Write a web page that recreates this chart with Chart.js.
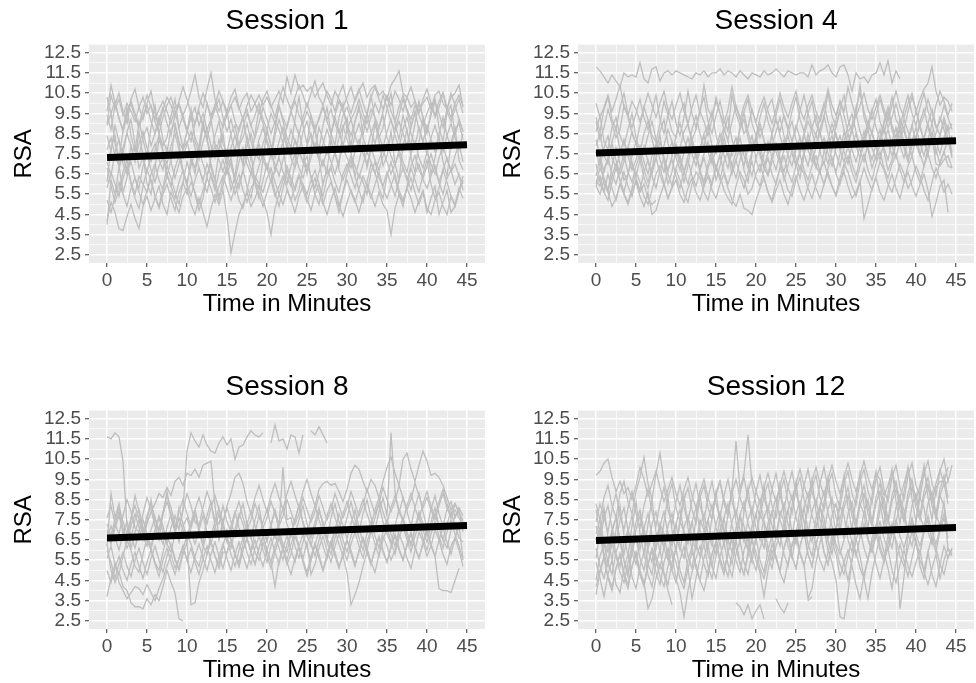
<!DOCTYPE html>
<html>
<head>
<meta charset="utf-8">
<script src="https://cdn.jsdelivr.net/npm/chart.js@4.4.1/dist/chart.umd.min.js"></script>
<style>
    body { margin: 0; background: #fff; width: 976px; height: 683px; overflow: hidden; position: relative; }
    .panel { position: absolute; width: 488px; height: 320px; }
</style>
</head>
<body>
<div class="panel" style="left:0;top:0"><canvas id="session1" width="488" height="320"></canvas></div>
<div class="panel" style="left:489px;top:0"><canvas id="session4" width="488" height="320"></canvas></div>
<div class="panel" style="left:0;top:366px"><canvas id="session8" width="488" height="320"></canvas></div>
<div class="panel" style="left:489px;top:366px"><canvas id="session12" width="488" height="320"></canvas></div>
<script>
// time axis, half-minute samples
const minutes = [
    0, 0.5, 1, 1.5, 2, 2.5, 3, 3.5, 4, 4.5, 5, 5.5, 6, 6.5, 7, 7.5, 8, 8.5, 9, 9.5,
    10, 10.5, 11, 11.5, 12, 12.5, 13, 13.5, 14, 14.5, 15, 15.5, 16, 16.5, 17, 17.5, 18, 18.5, 19, 19.5,
    20, 20.5, 21, 21.5, 22, 22.5, 23, 23.5, 24, 24.5, 25, 25.5, 26, 26.5, 27, 27.5, 28, 28.5, 29, 29.5,
    30, 30.5, 31, 31.5, 32, 32.5, 33, 33.5, 34, 34.5, 35, 35.5, 36, 36.5, 37, 37.5, 38, 38.5, 39, 39.5,
    40, 40.5, 41, 41.5, 42, 42.5, 43, 43.5, 44, 44.5, 45
];
const xTickValues = [0, 2.5, 5, 7.5, 10, 12.5, 15, 17.5, 20, 22.5, 25, 27.5, 30, 32.5, 35, 37.5, 40, 42.5, 45];
const yTickValues = [2.5, 3, 3.5, 4, 4.5, 5, 5.5, 6, 6.5, 7, 7.5, 8, 8.5, 9, 9.5, 10, 10.5, 11, 11.5, 12, 12.5];
const trendX = [0, 45];

const session1Trend = [7.32, 7.95];
const session1Lines = [
    [9.0,10.4,9.7,10.2,9.4,10.0,9.6,9.1,9.8,10.3, 9.5,9.9,9.2,9.7,10.1,9.6,9.0,9.8,10.0,9.4,
     9.9,10.6,11.4,10.3,9.8,10.7,11.5,10.2,9.6,10.1, 9.4,9.9,10.3,9.7,10.2,10.5,9.6,10.0,10.4,9.9,
     10.3,9.8,10.2,10.6,10.0,11.3,10.5,11.4,10.7,10.9, 10.6,10.8,10.3,10.7,11.0,10.4,9.9,10.6,10.2,9.8,
     10.3,10.8,10.1,10.6,11.0,10.3,10.7,10.9,10.4,10.6, 10.2,10.9,11.2,11.6,10.5,10.3,9.8,10.1,9.6,10.0,
     10.3,9.7,10.4,10.6,10.0,9.7,10.3,10.5,10.9,9.8, null],
    [10.3,9.5,10.1,9.2,8.7,9.6,10.0,9.3,8.8,9.4, 9.9,9.1,8.5,9.2,9.8,9.0,8.4,9.5,9.9,9.2,
     8.6,9.3,9.8,8.9,9.5,8.7,9.2,9.9,9.3,8.8, 9.4,9.9,9.1,8.6,9.3,9.7,8.9,9.4,10.0,9.2,
     8.7,9.5,9.0,9.8,9.3,8.8,9.6,10.1,9.4,9.0, 9.6,9.1,8.6,9.3,9.9,9.2,9.7,9.0,8.5,9.4,
     9.8,9.2,9.6,10.2,9.5,9.0,9.7,9.3,8.8,9.6, 10.3,9.6,9.1,9.8,10.4,9.7,9.2,9.9,9.4,8.9,
     9.5,10.0,9.3,9.8,10.5,9.6,9.1,9.7,10.2,9.5, null],
    [8.4,7.6,8.9,8.1,7.5,8.6,9.2,8.0,7.4,8.3, 8.8,7.9,8.5,9.3,8.2,7.6,8.7,9.0,8.1,7.7,
     8.6,9.4,8.3,7.8,8.9,8.2,7.5,8.4,9.1,8.0, 7.6,8.5,8.9,7.9,8.3,9.0,8.1,7.4,8.2,8.8,
     8.0,7.3,8.4,9.2,8.5,7.8,8.7,8.1,7.6,8.6, 9.1,8.3,7.7,8.8,8.2,7.5,8.4,9.3,8.6,7.9,
     8.7,9.2,8.4,7.8,8.9,9.5,8.6,8.0,8.8,9.4, 8.3,7.7,8.6,9.1,8.5,7.9,8.8,9.6,8.7,8.1,
     8.9,8.2,7.6,8.5,9.3,8.4,7.8,8.7,9.0,8.2, null],
    [7.1,6.4,7.6,8.2,7.0,6.5,7.4,7.9,6.8,7.3, 6.6,7.5,8.0,7.2,6.7,7.8,7.1,6.3,7.0,7.7,
     8.1,7.3,6.8,7.6,7.0,6.4,7.3,7.9,7.2,6.6, 7.4,6.9,6.2,7.1,7.8,7.0,6.5,7.3,8.0,7.2,
     6.7,7.5,7.0,6.4,7.2,7.9,7.3,6.8,7.6,7.1, 6.6,7.3,8.0,7.4,6.9,7.7,7.1,6.5,7.2,7.8,
     7.3,6.8,7.6,8.2,7.5,7.0,7.8,7.2,6.7,7.4, 8.0,7.4,6.9,7.7,7.1,6.6,7.5,8.1,7.3,6.8,
     7.6,7.0,6.5,7.3,7.9,7.2,6.7,7.4,8.0,7.1, null],
    [5.8,6.6,6.0,5.4,6.3,6.9,6.1,5.5,6.4,6.0, 5.6,6.5,7.0,6.2,5.7,6.4,5.9,5.3,6.1,6.7,
     6.0,5.4,6.2,6.8,6.1,5.6,6.5,5.9,5.2,6.3, 6.9,6.2,5.5,6.1,6.7,5.9,5.3,6.4,6.0,5.6,
     6.3,6.8,6.1,5.5,6.2,6.9,6.3,5.7,6.4,6.0, 5.5,6.2,6.7,6.0,5.4,6.3,6.8,6.1,5.6,6.5,
     7.0,6.4,5.8,6.5,6.1,5.5,6.6,7.1,6.3,5.9, 6.6,6.0,5.4,6.2,6.8,6.3,5.7,6.5,7.0,6.2,
     5.8,6.4,6.9,6.1,5.5,6.3,6.7,6.0,6.5,5.7, null],
    [4.2,5.1,4.6,3.8,3.7,4.4,5.0,4.3,3.8,4.9, 5.4,4.7,5.3,5.9,5.0,4.5,5.6,5.1,4.6,5.4,
     5.8,5.0,4.5,5.3,4.6,3.9,4.8,5.5,5.0,5.7, 4.4,2.6,3.6,4.5,5.0,5.6,4.9,5.3,5.9,5.2,
     4.6,3.5,4.8,5.5,5.0,5.7,5.2,4.6,5.4,5.9, 5.3,4.7,5.5,6.0,5.1,4.5,5.2,5.8,5.0,4.4,
     5.1,5.7,5.2,4.6,5.4,6.0,5.5,4.9,5.6,5.0, 4.7,3.5,4.8,5.5,5.1,5.8,5.3,4.6,5.2,5.7,
     4.8,4.5,5.2,5.6,4.9,4.5,5.4,5.0,5.8,5.3, null],
    [4.0,6.2,5.5,6.8,7.4,6.6,7.1,6.3,5.8,6.9, 7.5,6.7,6.1,6.9,7.3,6.5,5.9,6.8,7.4,6.6,
     6.1,6.9,7.6,6.8,6.2,7.0,6.4,5.7,6.6,7.2, 6.5,7.1,6.3,5.8,6.7,7.4,6.8,6.2,6.9,7.5,
     6.8,6.1,6.7,7.3,6.6,6.0,6.9,7.5,6.8,6.3, 7.0,6.4,5.8,6.6,7.2,6.5,6.9,7.6,6.7,6.2,
     6.8,7.4,6.9,6.3,7.0,7.6,7.1,6.5,7.2,7.7, 7.1,6.5,7.0,7.5,6.8,6.2,6.9,7.4,6.7,6.3,
     6.9,7.5,6.8,6.1,6.7,7.3,6.6,7.0,6.4,6.0, null],
    [9.6,10.9,10.0,9.3,8.6,9.4,10.1,9.5,8.9,9.7, 10.4,9.8,9.1,8.5,9.3,9.9,10.3,9.6,8.8,9.4,
     8.7,8.1,9.0,9.6,8.8,8.2,9.1,9.7,10.2,9.3, 8.6,9.2,8.4,7.9,8.8,9.5,8.9,8.3,9.0,9.8,
     9.2,8.5,9.1,8.7,8.0,8.9,9.6,9.0,8.4,9.3, 10.0,9.4,8.7,9.2,9.8,9.1,8.5,9.4,10.1,9.6,
     9.0,8.4,9.1,9.7,9.2,8.6,9.3,10.0,9.5,10.4, 9.8,9.1,8.7,9.4,10.2,9.6,8.9,9.5,10.0,9.3,
     8.7,9.4,10.1,9.5,8.8,9.7,10.5,9.9,9.2,8.6, null],
    [5.2,4.6,5.4,6.1,5.5,4.9,5.8,6.3,5.6,5.0, 5.7,6.2,5.4,4.8,5.5,6.0,5.3,4.7,5.6,6.1,
     5.5,6.1,5.6,5.0,5.7,6.3,5.8,5.1,5.9,6.4, 5.8,5.2,5.9,6.5,5.7,5.1,5.8,6.2,5.5,4.9,
     5.6,6.2,5.4,5.9,6.4,5.8,5.2,5.9,6.5,5.7, 5.1,5.8,6.3,5.6,5.0,5.7,6.1,5.4,4.9,5.6,
     6.2,5.6,5.1,5.8,6.4,5.9,5.3,6.0,6.6,5.8, 5.3,5.9,6.5,5.7,5.2,5.8,6.3,5.6,5.0,5.6,
     4.6,5.3,5.9,4.5,5.1,5.7,4.6,4.9,5.6,6.2, null],
    [7.7,8.3,7.4,6.9,7.8,8.5,7.9,7.2,8.0,8.6, 7.8,7.1,7.7,8.4,7.6,7.0,7.9,8.5,7.7,7.3,
     8.0,8.6,7.8,7.2,8.1,8.7,7.9,7.3,8.2,7.6, 7.0,7.8,8.4,7.7,7.1,7.9,8.5,7.6,7.2,8.0,
     8.6,7.9,7.3,8.1,8.8,8.0,7.4,8.2,7.7,7.1, 7.9,8.5,7.8,7.2,8.0,8.7,8.1,7.5,8.3,8.9,
     8.2,7.6,8.4,9.0,8.3,7.7,8.5,9.1,8.4,7.8, 8.6,9.2,8.4,7.8,8.7,9.3,8.5,7.9,8.8,8.1,
     7.5,8.3,8.9,8.2,7.6,8.4,9.0,8.3,7.7,8.5, null],
    [6.1,7.8,8.4,6.9,5.6,6.3,7.9,7.1,8.6,7.4, 6.0,5.5,6.8,8.2,7.7,6.4,7.2,8.9,8.0,6.6,
     5.9,7.3,6.5,7.9,9.1,8.3,6.8,6.2,7.6,8.5, 7.0,5.7,6.4,7.8,6.9,8.4,7.5,6.1,5.8,7.2,
     8.7,7.9,6.6,7.4,8.1,6.3,5.9,7.0,8.6,7.7, 6.5,7.8,8.9,7.2,6.0,6.7,8.2,7.5,6.9,8.8,
     9.3,7.6,6.4,7.1,8.0,6.8,7.7,9.0,8.1,6.9, 7.4,8.6,7.0,6.2,7.9,8.7,7.3,6.6,8.1,9.2,
     7.8,6.5,7.3,8.4,7.1,6.4,8.0,8.8,7.2,6.7, null],
    [8.9,9.5,8.0,7.3,8.6,9.8,8.4,7.6,9.1,8.2, 7.4,8.8,9.9,8.5,7.9,8.3,9.4,10.2,8.7,7.8,
     8.6,9.7,8.1,7.5,8.9,10.0,9.2,8.0,7.7,9.0, 9.6,8.4,7.6,8.8,9.3,8.1,7.2,8.5,9.7,9.0,
     8.2,7.5,8.7,9.9,9.1,8.3,7.8,9.2,10.3,8.9, 8.0,9.4,8.6,7.7,8.9,9.8,8.5,7.9,9.3,10.0,
     8.7,7.9,9.1,9.9,8.4,9.5,10.4,9.2,8.3,8.8, 9.7,10.5,9.0,8.2,9.4,8.6,7.9,9.0,10.1,9.3,
     8.5,9.6,10.2,8.8,8.1,9.5,9.9,8.4,9.2,8.6, null],
    [6.8,5.9,5.1,5.7,6.6,7.2,6.0,5.3,4.8,5.9, 6.7,6.2,5.4,4.9,5.8,6.9,6.3,5.6,5.0,6.1,
     7.1,6.4,5.5,4.7,5.3,6.4,7.0,6.2,5.4,5.9, 6.8,7.3,6.1,5.2,4.8,5.7,6.6,6.0,5.3,6.2,
     7.0,6.5,5.6,4.9,5.8,6.7,6.1,5.2,5.7,6.9, 7.4,6.3,5.5,5.0,6.0,6.8,6.2,5.4,4.6,5.6,
     6.5,7.2,6.4,5.7,5.1,6.1,7.0,6.6,5.8,5.3, 6.4,7.1,6.3,5.5,4.9,5.9,6.8,6.2,5.6,6.5,
     7.2,6.0,5.3,5.8,6.7,6.1,5.4,4.9,5.7,6.4, null],
    [9.4,8.7,9.9,10.5,9.6,9.0,10.2,10.7,9.8,9.2, 10.0,10.6,9.5,8.9,9.7,10.3,9.9,9.3,10.1,10.8,
     10.2,9.5,9.0,9.8,10.5,10.0,9.4,9.9,10.6,10.1, 9.6,10.3,10.7,9.8,9.2,9.9,10.4,10.0,9.5,10.2,
     10.6,9.9,9.3,10.1,10.8,10.2,9.7,10.3,10.9,10.4, 9.8,10.5,11.1,10.3,9.9,10.6,10.2,9.6,10.4,10.9,
     10.1,9.5,10.2,10.7,10.0,9.4,10.3,10.8,10.2,9.7, 10.4,9.9,10.6,10.2,9.6,10.3,10.8,10.1,9.5,10.2,
     10.7,10.0,9.4,10.1,10.5,9.8,9.3,10.0,10.4,9.9, null]
];

const session4Trend = [7.54, 8.14];
const session4Lines = [
    [11.8,11.6,11.3,11.0,11.4,11.1,10.8,11.5,11.3,11.4, 11.3,12.0,11.2,11.0,11.7,11.8,11.1,11.5,11.6,11.4,
     11.6,11.5,11.4,11.3,11.2,11.5,11.4,11.6,11.3,11.5, 11.5,11.7,11.4,11.6,11.5,11.3,11.6,11.4,11.2,11.5,
     11.4,11.3,11.6,11.4,11.5,11.7,11.5,11.3,11.6,11.5, 11.4,11.5,11.5,11.3,11.9,11.4,11.6,11.7,11.9,11.5,
     11.3,11.8,11.9,11.4,10.6,11.5,11.2,11.3,11.0,11.4, 11.5,12.0,11.4,12.1,11.0,11.6,11.2,null,null,null,
     null,null,null,null,null,null,null,null,null,null, null],
    [10.0,9.3,9.8,10.4,9.6,10.2,10.9,9.8,9.4,10.1, 9.7,9.1,9.8,10.5,9.9,9.3,10.0,10.6,9.7,9.2,
     9.9,10.5,9.6,9.0,9.8,10.4,9.5,10.9,9.7,9.3, 10.1,9.5,9.0,9.7,10.8,9.8,9.2,9.9,10.4,9.6,
     9.1,9.8,10.3,9.6,9.0,9.7,10.5,9.8,9.3,10.0, 10.6,9.7,9.2,9.9,10.4,9.6,9.1,9.8,10.7,9.9,
     9.4,10.1,9.6,10.8,10.0,9.3,9.9,10.5,9.7,9.2, 9.8,10.4,9.7,9.1,9.9,10.6,9.8,9.3,10.0,10.5,
     9.6,10.2,10.7,11.0,11.8,10.6,9.9,10.3,10.1,9.6, null],
    [8.6,9.4,8.1,7.7,8.8,9.3,8.4,7.9,8.7,9.5, 8.3,7.6,8.5,9.1,8.2,7.5,8.6,9.2,8.0,7.4,
     8.4,9.0,8.2,7.6,8.7,9.4,8.5,7.8,8.9,9.6, 8.4,7.7,8.6,9.3,8.2,7.5,8.8,9.5,8.6,7.9,
     8.3,9.0,8.1,7.6,8.5,9.2,8.4,7.7,8.6,9.1, 8.2,7.5,8.4,9.1,8.6,7.9,8.7,9.4,8.5,7.8,
     8.9,9.6,8.7,8.0,8.8,9.5,8.6,8.1,9.0,9.7, 8.8,8.2,9.1,9.8,8.9,8.3,9.2,8.6,8.0,8.9,
     9.6,8.8,8.2,9.0,9.7,8.9,8.4,9.3,8.6,9.0, null],
    [7.6,6.9,7.8,8.4,7.3,6.8,7.5,8.2,7.4,6.7, 7.2,7.9,7.1,6.5,7.4,8.0,7.2,6.6,7.5,8.1,
     7.3,6.7,7.6,8.3,7.5,6.9,7.7,8.4,7.6,7.0, 7.8,8.5,7.4,6.8,7.7,8.3,7.5,6.9,7.8,8.4,
     7.2,6.6,7.5,8.1,7.3,6.7,7.6,8.2,7.4,6.9, 7.7,8.3,7.5,6.9,7.8,8.5,7.6,7.0,7.9,8.4,
     7.5,6.9,7.8,8.5,7.7,7.1,7.9,8.6,7.8,7.2, 8.0,8.7,7.8,7.2,8.1,8.8,7.9,7.3,8.2,8.9,
     8.0,7.4,8.3,9.0,8.1,7.5,8.4,9.1,8.2,7.6, null],
    [6.2,5.9,6.7,7.3,6.5,6.0,6.8,7.4,6.6,6.1, 6.9,7.5,6.7,6.1,6.8,7.3,6.5,5.9,6.7,7.2,
     6.4,5.8,6.6,7.2,6.4,5.9,6.7,7.3,6.5,6.0, 6.8,7.4,6.6,6.0,6.7,7.2,6.4,5.8,6.6,7.1,
     6.3,5.9,6.7,7.3,6.5,6.0,6.8,7.4,6.6,6.1, 6.9,7.5,6.7,6.2,6.9,7.4,6.6,6.0,6.8,7.3,
     6.5,6.0,6.8,7.4,6.6,6.1,6.9,7.5,6.7,6.2, 7.0,7.6,6.8,6.3,7.0,7.5,6.7,6.1,6.9,7.4,
     6.6,6.1,6.9,7.5,6.8,6.3,7.1,7.6,6.9,6.8, null],
    [5.9,5.5,6.2,5.6,4.9,5.3,6.0,5.5,5.0,5.7, 6.1,5.4,4.9,5.6,4.5,4.7,5.4,6.0,5.3,5.8,
     6.2,5.5,5.1,5.8,6.3,5.6,5.2,5.9,6.4,5.7, 5.3,6.0,6.5,5.8,5.2,4.9,5.5,4.8,4.7,4.5,
     5.2,5.8,6.3,5.6,5.1,5.7,6.2,5.5,5.0,5.8, 6.4,5.7,5.2,5.9,6.5,5.8,5.3,6.0,6.6,5.9,
     5.4,6.1,6.6,5.9,5.3,5.6,6.2,4.3,5.0,5.8, 6.3,5.6,5.2,5.9,6.5,5.8,5.3,6.1,6.6,5.9,
     5.4,6.0,6.5,5.7,4.4,5.1,5.9,6.2,4.6,null, null],
    [8.2,7.4,6.6,7.3,8.0,7.2,6.5,7.1,7.8,7.0, 6.4,7.2,7.9,7.1,6.5,7.3,8.1,7.3,6.7,7.4,
     8.0,7.2,6.6,7.4,8.2,7.4,6.8,7.5,8.1,7.3, 6.7,7.5,8.3,7.5,6.9,7.6,8.3,7.4,6.8,7.6,
     8.2,7.4,6.8,7.6,8.4,7.6,7.0,7.7,8.4,7.5, 6.9,7.7,8.5,7.7,7.1,7.8,8.6,7.7,7.0,7.8,
     8.5,7.7,7.1,7.9,8.7,7.9,7.3,8.0,8.7,7.8, 7.2,8.0,8.8,8.0,7.4,8.1,8.9,8.0,7.3,8.1,
     8.8,8.0,7.4,8.2,9.0,8.1,7.5,8.3,8.9,7.4, null],
    [7.0,6.1,5.6,6.5,5.8,5.2,6.0,6.6,5.9,5.4, 6.2,5.6,6.0,5.3,5.0,5.2,null,null,null,null,
     null,null,null,null,null,null,null,null,null,null, null,null,null,null,null,null,null,null,null,null,
     null,null,null,null,null,null,null,null,null,null, null,null,null,null,null,null,null,null,null,null,
     null,null,null,null,null,null,null,null,null,null, null,null,null,null,null,null,null,null,null,null,
     null,null,null,null,null,null,null,null,null,null, null],
    [9.3,8.6,9.7,10.3,9.2,8.7,9.8,10.5,9.4,8.8, 9.5,10.2,9.3,8.7,9.6,10.4,9.2,8.5,9.4,10.1,
     9.0,8.4,9.3,10.6,9.5,8.8,9.7,10.3,9.1,8.5, 9.4,10.1,9.2,8.6,10.4,9.5,8.9,9.6,10.2,9.0,
     8.4,9.3,10.0,9.1,8.5,9.4,10.2,9.3,8.7,9.6, 10.3,9.2,8.6,9.5,10.1,9.0,8.4,9.3,10.5,9.4,
     8.8,9.7,10.4,9.2,8.6,9.5,10.9,9.3,8.7,9.6, 10.2,9.1,8.5,9.4,10.3,9.2,8.8,9.7,10.4,9.5,
     8.9,9.8,10.5,9.6,9.0,9.9,10.6,10.1,9.4,10.0, null],
    [6.0,6.8,6.3,5.7,6.4,7.0,6.2,5.6,6.5,7.1, 6.3,5.7,6.6,7.2,6.4,5.8,6.7,7.3,6.5,5.9,
     6.8,7.4,6.6,6.0,6.9,7.5,6.7,6.1,7.0,7.6, 6.8,6.2,7.1,7.7,6.9,6.3,7.2,7.8,7.0,6.4,
     7.3,7.9,7.1,6.5,7.4,8.0,7.2,6.6,7.5,8.1, 7.3,6.7,7.6,8.2,7.4,6.8,7.7,8.3,7.5,6.9,
     7.8,8.4,7.6,7.0,7.9,8.5,7.7,7.1,8.0,8.6, 7.8,7.2,8.1,8.7,7.9,7.3,8.2,8.8,8.0,7.4,
     8.3,8.9,8.1,7.5,8.4,7.0,6.9,7.2,7.4,6.8, null],
    [6.4,7.3,6.0,5.6,6.9,7.8,7.0,6.2,6.5,7.4, 8.1,7.2,6.3,5.8,6.7,7.9,8.4,7.1,6.0,6.6,
     7.7,7.0,6.1,6.9,8.2,7.5,6.6,5.9,6.8,7.3, 6.2,6.9,8.0,7.4,6.5,7.2,7.8,6.7,6.1,7.5,
     8.3,7.6,6.8,6.4,7.1,8.0,7.3,6.2,6.9,7.7, 7.0,6.3,7.4,8.5,7.8,6.9,6.5,7.6,8.1,7.2,
     6.6,7.5,8.6,7.9,7.0,6.4,7.3,8.2,7.7,6.8, 7.4,8.3,7.6,6.7,7.2,8.0,8.7,7.8,7.1,7.9,
     8.4,7.5,6.9,7.8,8.6,7.7,7.0,7.6,8.2,7.3, null],
    [9.1,8.2,8.8,9.7,9.0,8.3,8.7,9.9,9.3,8.5, 8.0,8.9,9.8,9.2,8.4,8.1,9.0,10.1,9.4,8.6,
     8.3,9.5,10.0,8.9,8.2,8.7,9.6,9.1,8.4,9.2, 10.3,9.5,8.7,8.2,9.1,9.9,9.3,8.5,8.8,9.7,
     9.0,8.3,8.9,9.8,10.2,9.2,8.6,9.4,8.8,8.1, 8.7,9.6,10.4,9.5,8.8,8.4,9.3,10.0,9.1,8.5,
     9.2,10.1,9.4,8.6,8.9,9.8,10.5,9.6,8.9,8.5, 9.4,10.2,9.5,8.8,9.3,10.0,9.2,8.7,9.6,10.3,
     9.7,8.9,9.4,10.2,9.5,8.8,9.1,9.9,9.3,8.7, null],
    [5.9,6.4,5.6,5.2,6.1,6.8,6.2,5.5,5.1,5.8, 6.6,6.1,5.4,5.0,5.7,6.5,6.9,6.0,5.3,5.9,
     6.7,6.2,5.5,5.1,6.0,6.6,6.3,5.6,5.2,6.1, 6.9,6.4,5.7,5.3,5.0,5.9,6.6,6.2,5.5,5.8,
     6.5,7.0,6.3,5.6,5.2,6.1,6.8,6.4,5.7,5.4, 6.2,6.9,6.5,5.8,5.3,6.0,6.7,7.1,6.4,5.9,
     5.5,6.3,7.0,6.6,5.9,5.4,6.1,6.8,6.2,5.7, 6.4,7.1,6.7,6.0,5.6,6.3,7.0,6.5,5.8,6.2,
     6.9,6.4,5.7,5.2,6.1,6.8,6.3,5.6,6.0,5.5, null],
    [7.9,8.5,7.4,7.0,8.1,8.8,7.7,7.2,7.8,8.6, 8.0,7.3,7.6,8.4,9.1,8.2,7.5,7.9,8.7,8.1,
     7.4,7.8,8.6,9.0,8.0,7.3,7.7,8.5,8.9,7.9, 7.5,8.2,8.8,8.1,7.4,7.9,8.7,9.2,8.3,7.6,
     8.0,8.8,8.2,7.5,7.9,8.6,9.3,8.4,7.7,8.1, 8.9,8.3,7.6,8.0,8.8,9.4,8.5,7.8,8.2,9.0,
     8.4,7.7,8.1,8.9,9.5,8.6,7.9,8.3,9.1,8.5, 7.8,8.2,9.0,9.6,8.7,8.0,8.4,9.2,8.6,7.9,
     8.3,9.1,9.7,8.8,8.1,8.5,9.3,8.7,8.0,8.4, null]
];

const session8Trend = [6.60, 7.22];
const session8Lines = [
    [11.6,11.5,11.8,11.6,10.4,7.2,6.1,6.9,7.5,6.7, 6.2,7.0,7.6,6.8,6.3,7.1,7.8,7.0,6.4,7.2,
     7.6,6.9,6.3,7.0,7.7,6.9,6.3,7.1,7.8,7.0, 6.4,7.2,7.9,7.1,6.5,7.3,7.9,7.2,6.6,7.4,
     8.0,7.2,6.6,7.4,8.1,7.3,6.7,7.5,8.2,7.4, 6.8,7.6,8.2,7.5,6.9,7.7,8.3,7.6,7.0,7.8,
     8.4,7.7,7.1,7.9,8.5,7.8,7.2,8.0,8.6,7.9, 7.3,8.1,8.7,8.0,7.4,8.2,8.8,8.1,7.5,8.3,
     8.9,8.2,7.6,8.4,9.0,8.3,7.7,8.0,7.6,7.2, null],
    [6.5,7.2,6.6,6.0,6.8,7.4,6.7,6.1,6.9,7.5, 6.8,6.2,7.0,7.6,6.9,6.3,7.1,7.7,7.0,8.0,
     10.9,11.8,11.4,11.1,11.7,11.2,10.9,10.8,11.3,11.6, 11.2,11.5,10.5,11.1,11.2,11.6,11.9,11.7,11.6,11.8,
     null,11.3,12.2,11.4,11.5,11.0,11.7,11.6,10.8,11.7, null,11.9,11.7,12.1,11.7,11.3,null,null,null,null,
     null,null,null,null,null,null,null,null,null,null, null,null,null,null,null,null,null,null,null,null,
     null,null,null,null,null,null,null,null,null,null, null],
    [6.9,6.3,7.1,7.7,7.0,6.4,7.2,7.8,7.1,6.5, 7.3,7.9,8.3,8.8,8.6,9.1,8.7,9.4,9.6,9.2,
     9.8,9.7,10.0,9.6,10.2,10.3,10.4,8.2,6.6,7.4, 6.5,5.8,5.2,6.0,6.6,5.9,5.3,6.1,6.7,6.0,
     5.4,6.2,6.8,6.1,5.5,6.3,6.9,6.2,5.6,6.4, 7.0,6.3,5.7,6.5,7.1,6.4,5.8,6.6,7.2,6.5,
     5.9,6.7,7.3,6.6,6.0,6.8,7.4,6.7,6.1,6.9, 7.5,6.8,6.2,7.0,7.6,6.9,6.3,7.1,7.7,7.0,
     6.4,7.2,7.8,7.1,6.5,7.3,7.9,7.2,6.6,6.4, null],
    [3.7,4.6,5.3,4.4,4.0,3.6,3.9,4.2,4.1,3.8, 4.3,3.9,3.5,4.1,4.6,5.2,5.8,5.1,5.6,6.2,
     5.5,6.1,5.4,4.8,5.6,6.2,5.5,4.9,5.7,6.3, 5.6,5.0,5.8,6.4,5.7,5.1,5.9,6.5,5.8,5.2,
     6.0,6.6,5.9,5.3,6.1,6.7,6.0,5.4,6.2,6.8, 6.1,5.5,6.3,6.9,6.2,5.6,6.4,7.0,6.3,5.7,
     4.9,3.3,3.8,4.4,5.2,5.9,5.3,6.0,6.6,5.9, 5.4,6.1,6.7,6.0,5.5,6.2,6.8,6.1,5.6,6.3,
     6.9,6.2,5.7,4.1,4.0,4.0,3.9,4.5,5.1,null, null],
    [6.3,5.0,4.4,4.9,4.2,4.0,3.4,3.2,3.2,3.1, 3.6,3.3,3.8,3.5,4.2,5.0,4.4,3.9,2.6,2.5,
     null,null,null,null,null,null,null,null,null,null, null,null,null,null,null,null,null,null,null,null,
     null,null,null,null,null,null,null,null,null,null, null,null,null,null,null,null,null,null,null,null,
     null,null,null,null,null,null,null,null,null,null, null,null,null,null,null,null,null,null,null,null,
     null,null,null,null,null,null,null,null,null,null, null],
    [6.2,8.8,7.6,8.3,7.1,6.4,7.5,8.7,7.9,6.8, 7.4,8.5,7.2,6.5,7.8,8.9,7.6,6.9,8.1,7.3,
     6.6,7.4,8.0,7.1,6.3,7.7,8.4,7.2,6.5,7.3, 8.1,7.4,6.7,7.6,8.3,7.3,6.6,7.5,8.2,7.0,
     6.4,7.3,8.0,7.2,10.1,7.5,7.6,6.8,7.5,8.2, 7.3,6.6,7.4,8.1,7.2,6.5,7.6,8.3,7.4,6.8,
     7.6,8.4,7.5,6.9,7.8,8.5,7.6,7.0,7.9,8.6, 7.7,11.8,8.9,7.8,8.6,7.9,7.2,8.1,8.8,7.9,
     7.1,8.0,8.7,7.8,7.2,8.0,8.4,7.6,8.1,7.7, null],
    [6.0,5.4,4.6,5.3,5.9,5.2,4.7,5.5,6.1,5.4, 4.8,5.6,6.2,5.5,4.9,5.7,6.3,5.6,5.0,5.8,
     6.4,3.3,3.4,4.4,5.0,5.8,6.4,5.7,5.1,5.9, 5.9,6.5,5.8,5.2,6.0,6.6,5.9,5.3,6.1,6.7,
     6.0,5.4,6.2,6.8,6.1,5.5,6.3,6.9,6.2,5.6, 6.4,4.8,5.3,6.1,6.7,6.0,5.4,6.2,6.8,6.1,
     5.5,6.3,6.9,6.2,5.6,6.4,7.0,6.3,5.7,6.5, 7.1,6.4,5.8,6.6,7.2,6.5,5.9,6.7,7.3,6.6,
     6.0,6.8,7.4,6.7,6.1,6.9,7.5,6.8,6.2,5.5, null],
    [7.3,6.7,7.5,8.1,7.4,6.8,7.6,8.2,7.5,6.9, 7.7,8.3,7.6,7.0,7.8,8.4,7.7,7.1,7.9,8.5,
     7.8,7.2,8.0,8.6,7.9,7.3,8.1,8.7,8.0,7.4, 8.2,8.8,9.6,9.8,9.3,8.4,7.8,8.6,9.2,8.5,
     7.9,8.7,9.3,8.6,8.0,8.8,9.4,8.7,8.1,8.9, 9.5,8.8,8.2,9.0,9.3,9.4,9.2,9.3,8.9,8.4,
     9.0,9.8,10.2,10.0,9.4,8.9,9.5,9.2,8.6,9.4, 10.1,10.6,9.8,9.2,10.5,10.8,10.0,9.4,10.2,10.9,
     10.4,9.7,9.8,9.6,9.2,8.6,8.0,8.3,7.8,7.5, null],
    [5.0,4.4,5.1,5.7,5.0,4.5,5.3,5.9,5.2,4.6, 5.4,6.0,5.3,4.7,5.5,6.1,5.4,4.8,5.6,6.2,
     5.5,4.9,5.7,6.3,5.6,5.0,5.8,6.4,5.7,5.1, 5.9,6.5,5.8,5.2,6.0,6.6,5.9,5.3,6.1,6.7,
     6.0,5.4,4.2,5.5,6.1,5.4,4.8,5.6,6.2,5.5, 4.9,5.7,6.3,5.6,5.0,5.8,6.4,5.7,5.1,5.9,
     6.5,5.8,5.2,6.0,6.6,5.9,5.3,6.1,6.7,6.0, 5.4,6.2,6.8,6.1,5.5,6.3,6.9,6.2,5.6,6.4,
     7.0,6.3,5.7,6.5,7.1,6.4,5.8,6.6,7.2,5.6, null],
    [7.0,6.4,7.3,7.9,6.8,6.1,6.6,7.5,8.0,7.1, 6.5,6.0,6.9,7.7,7.2,6.3,5.9,6.8,7.6,7.0,
     6.4,7.1,7.8,6.9,6.2,5.8,6.7,7.4,8.1,7.2, 6.6,6.1,7.0,7.8,7.3,6.5,6.0,6.9,7.7,7.1,
     6.5,7.2,7.9,7.0,6.3,5.9,6.8,7.5,8.2,7.3, 6.7,6.2,7.1,7.9,7.4,6.6,6.1,7.0,7.8,7.2,
     6.6,7.3,8.0,7.1,6.4,6.0,6.9,7.6,8.3,7.4, 6.8,6.3,7.2,8.0,7.5,6.7,6.2,7.1,7.9,7.3,
     6.7,7.4,8.1,7.2,6.5,6.1,7.0,7.7,8.0,6.9, null],
    [5.6,6.2,5.3,4.8,5.7,6.5,6.0,5.2,4.9,5.8, 6.6,6.1,5.4,5.0,5.9,6.7,6.2,5.5,5.1,6.0,
     6.8,6.3,5.6,5.2,6.1,6.9,6.4,5.7,5.3,6.2, 7.0,6.5,5.8,5.4,6.3,7.1,6.6,5.9,5.5,6.4,
     5.7,5.1,5.9,6.6,6.0,5.3,5.8,6.7,6.1,5.4, 4.7,5.5,6.3,5.8,5.0,5.6,6.4,5.9,5.2,5.7,
     6.5,6.0,5.3,5.9,6.6,6.1,5.4,4.9,5.8,6.7, 6.2,5.5,6.0,6.8,6.3,5.6,5.1,6.0,6.9,6.4,
     5.7,6.2,7.0,6.5,5.8,5.3,6.2,6.6,6.0,5.2, null],
    [7.6,8.2,7.3,6.8,7.7,8.5,7.9,7.1,6.9,7.8, 8.6,8.0,7.2,7.0,7.9,8.7,8.1,7.3,7.1,8.0,
     8.8,8.2,7.4,7.2,8.1,8.9,8.3,7.5,7.3,8.2, 7.4,6.9,7.8,8.4,7.6,7.0,7.5,8.3,7.7,7.1,
     7.6,8.4,7.8,7.2,7.7,8.5,7.9,7.3,7.8,8.6, 8.0,7.4,7.9,8.7,8.1,7.5,8.0,8.8,8.2,7.6,
     8.1,8.9,8.3,7.7,8.2,9.0,8.4,7.8,8.3,9.1, 8.5,7.9,8.4,9.2,8.6,8.0,8.5,9.3,8.7,8.1,
     8.6,8.0,7.5,8.2,8.8,8.1,7.6,8.3,7.9,7.4, null]
];

const session12Trend = [6.48, 7.12];
const session12Lines = [
    [9.7,9.9,10.3,10.5,9.6,8.9,9.4,8.8,9.1,8.5, 9.2,10.1,9.5,8.7,9.3,9.9,9.1,8.4,9.0,9.6,
     8.8,8.2,9.0,9.6,8.7,8.1,8.9,9.5,8.6,8.0, 8.7,9.4,8.5,7.9,8.8,9.5,8.6,8.0,8.9,9.6,
     8.9,8.3,9.1,9.8,9.0,8.4,9.2,9.9,9.1,8.5, 9.3,10.0,9.2,8.6,9.4,10.1,9.3,8.7,9.5,10.2,
     9.4,8.8,9.6,10.3,9.5,8.9,9.7,10.4,9.6,9.0, 9.8,9.5,8.7,9.2,9.9,9.1,8.6,9.3,10.0,9.2,
     8.5,9.2,9.9,9.1,8.5,9.3,10.0,9.2,9.4,null, null],
    [8.3,7.5,8.6,9.2,8.2,7.6,8.8,9.4,8.4,7.8, 8.9,9.6,10.6,9.3,8.5,9.8,10.8,9.4,8.6,9.3,
     8.1,7.4,8.5,9.1,8.0,7.3,8.6,9.2,8.1,7.5, 8.8,9.4,8.3,7.7,8.9,11.4,9.0,9.8,11.7,9.2,
     8.3,7.6,8.7,9.3,8.2,7.6,8.8,9.5,8.4,7.8, 9.0,9.6,8.5,7.9,9.1,9.7,8.6,8.0,9.2,9.8,
     8.7,8.1,9.3,9.9,8.8,8.2,9.4,10.0,8.9,8.3, 9.5,10.1,9.0,8.4,9.6,10.2,9.1,8.5,9.7,10.3,
     9.2,8.6,9.8,10.4,9.3,8.7,9.9,10.5,9.4,10.2, null],
    [7.2,6.5,7.6,8.2,7.1,6.4,7.5,8.1,7.0,6.3, 7.4,8.0,6.9,6.2,7.3,7.9,6.8,6.1,7.2,7.8,
     6.7,6.0,7.1,7.7,6.6,6.0,7.2,7.8,6.8,6.2, 7.3,7.9,6.9,6.3,7.4,8.0,7.0,6.4,7.5,8.1,
     7.1,6.5,7.6,8.2,7.2,6.6,7.7,8.3,7.3,6.7, 7.8,8.4,7.4,6.8,7.9,8.5,7.5,6.9,8.0,8.6,
     7.6,7.0,8.1,8.7,7.7,7.1,8.2,8.8,7.8,7.2, 8.3,8.9,7.9,7.3,8.4,9.0,8.0,7.4,8.5,9.1,
     8.1,7.5,8.6,9.2,8.2,7.6,8.7,9.3,8.3,null, null],
    [8.0,6.8,5.6,6.3,6.9,5.8,5.2,6.4,7.0,5.9, 5.3,6.5,7.1,6.0,5.4,6.6,7.2,6.1,5.5,6.7,
     7.3,6.2,5.6,6.8,7.4,6.3,5.7,6.9,7.5,6.4, 5.8,7.0,7.6,6.5,5.9,7.1,7.7,6.6,6.0,7.2,
     7.8,6.7,6.1,7.3,7.9,6.8,6.2,7.4,8.0,6.9, 6.3,7.5,8.1,7.0,6.4,7.6,8.2,7.1,6.5,7.7,
     8.3,7.2,6.6,7.8,8.4,7.3,6.7,7.9,8.5,7.4, 6.8,8.0,8.6,7.5,6.9,8.1,8.7,7.6,7.0,8.2,
     8.8,7.7,7.1,8.3,8.9,7.8,7.2,8.4,6.0,5.7, null],
    [3.8,4.9,5.6,4.7,4.2,5.1,5.8,4.9,4.3,5.2, 5.9,5.0,4.4,3.1,3.6,4.6,5.3,4.8,4.0,3.3,
     null,null,null,null,null,null,null,null,null,null, null,null,null,null,null,null,null,null,null,null,
     null,null,null,null,null,null,null,null,null,null, null,null,null,null,null,null,null,null,null,null,
     null,null,null,null,null,null,null,null,null,null, null,null,null,null,null,null,null,null,null,null,
     null,null,null,null,null,null,null,null,null,null, null],
    [4.5,5.7,6.3,5.4,4.8,5.9,6.5,5.5,4.9,6.0, 6.6,5.6,5.0,6.1,6.7,5.7,5.1,6.2,6.8,5.8,
     4.6,3.9,2.7,4.0,4.9,5.6,6.2,5.3,4.7,5.8, 6.4,5.4,4.8,5.9,6.5,5.5,4.9,6.0,6.6,5.6,
     5.0,6.1,6.7,5.7,5.1,6.2,6.8,5.8,5.2,6.3, 6.9,5.9,5.3,3.6,4.1,5.4,6.4,7.0,6.0,5.4,
     4.5,2.7,2.6,3.9,5.5,6.5,7.1,6.1,5.5,6.6, 7.2,6.2,5.6,6.7,7.3,6.3,3.1,4.7,6.8,7.4,
     6.4,5.8,6.9,7.5,6.5,5.9,7.0,7.6,6.6,null, null],
    [null,null,null,null,null,null,null,null,null,null, null,null,null,null,null,null,null,null,null,null,
     null,null,null,null,null,null,null,null,null,null, null,null,null,null,null,3.4,3.2,2.8,3.3,2.6,
     3.0,3.3,2.6,null,null,3.6,3.2,2.9,3.4,null, null,null,null,3.5,3.7,null,null,null,null,null,
     null,null,null,null,null,null,null,null,null,null, null,null,null,null,null,null,null,null,null,null,
     null,null,null,null,null,null,null,null,null,null, null],
    [5.6,6.9,8.1,6.6,5.5,7.0,8.2,6.7,5.7,7.2, 8.4,6.8,5.8,7.3,8.5,6.9,5.9,7.4,8.6,7.0,
     5.9,7.5,8.7,7.1,6.0,7.6,8.8,7.2,6.1,7.7, 8.9,7.3,6.2,7.8,9.0,7.4,6.3,7.9,9.1,7.5,
     6.4,8.0,9.2,7.6,6.5,8.1,9.3,7.7,6.6,8.2, 9.4,7.8,6.7,8.3,9.5,7.9,6.8,8.4,9.6,8.0,
     6.9,8.5,9.7,8.1,7.0,8.6,9.8,8.2,7.1,8.7, 9.9,8.3,7.2,8.8,10.0,8.4,7.3,8.9,10.1,8.5,
     7.4,9.0,10.2,8.6,7.5,9.1,9.4,9.4,10.1,null, null],
    [5.4,4.6,3.7,4.8,5.5,4.3,3.9,5.1,5.8,4.7, 4.1,5.2,5.9,4.8,4.2,5.3,6.0,4.9,4.3,5.4,
     6.1,5.0,4.4,5.5,6.2,5.1,4.5,5.6,6.3,5.2, 4.6,5.7,6.4,5.3,4.7,5.8,6.5,5.4,4.8,5.9,
     6.6,5.5,4.9,6.0,6.7,5.6,5.0,6.1,6.8,5.7, 5.1,6.2,6.9,5.8,5.2,6.3,7.0,5.9,5.3,6.4,
     5.8,4.7,5.4,6.0,5.2,4.3,3.6,4.8,5.6,6.2, 5.3,4.6,5.5,6.1,5.0,4.4,5.3,6.0,5.2,4.7,
     5.4,6.0,4.9,4.3,5.1,5.8,4.6,5.5,6.1,5.8, null],
    [6.8,7.5,6.4,5.9,7.0,7.6,6.5,5.8,6.9,7.7, 6.6,6.0,7.1,7.8,6.7,6.1,7.2,7.9,6.8,6.2,
     7.3,8.0,6.9,6.3,7.4,8.1,7.0,6.4,7.5,8.2, 7.1,6.5,7.6,8.3,7.2,6.6,7.7,8.4,7.3,6.7,
     7.8,8.5,7.4,6.8,7.9,8.6,7.5,6.9,8.0,8.7, 7.6,7.0,8.1,8.8,7.7,7.1,8.2,8.9,7.8,7.2,
     6.3,5.8,6.5,7.2,6.4,5.7,6.6,7.3,6.5,5.9, 6.7,7.4,6.6,6.0,6.8,7.5,6.7,6.1,6.9,7.6,
     6.8,6.2,7.0,7.7,6.9,6.3,7.1,7.8,7.0,null, null],
    [4.2,5.0,5.7,4.6,4.0,5.1,5.8,4.7,4.1,5.2, 5.9,4.8,4.2,5.3,6.0,4.9,4.3,5.4,6.1,5.0,
     4.4,5.5,6.2,5.1,3.6,4.6,5.6,6.3,5.2,4.6, 5.7,6.4,5.3,4.7,5.8,6.5,5.4,4.8,5.9,6.6,
     5.5,4.9,3.7,5.0,6.0,5.6,5.0,6.1,6.8,5.7, 5.1,6.2,6.9,5.8,5.2,6.3,7.0,5.9,5.3,6.4,
     7.1,6.0,5.4,4.5,5.5,6.6,5.7,4.6,3.6,4.9, 5.8,6.7,5.9,5.1,4.1,5.4,6.3,5.5,4.7,5.6,
     6.5,5.2,4.6,5.9,4.8,4.2,5.3,6.2,5.6,6.1, null],
    [7.4,8.3,7.6,6.9,8.0,8.8,7.7,7.0,8.1,8.9, 7.8,7.1,8.2,9.0,7.9,7.2,8.3,9.1,8.0,7.3,
     8.4,9.2,8.1,7.4,8.5,9.3,8.2,7.5,8.6,9.4, 8.3,7.6,8.7,9.5,8.4,7.7,8.8,9.6,8.5,7.8,
     8.9,9.7,8.6,7.9,9.0,9.8,8.7,8.0,9.1,9.9, 8.8,8.1,9.2,10.0,8.9,8.2,9.3,10.1,9.0,8.3,
     8.2,7.5,8.4,9.1,8.0,7.3,8.5,9.2,8.1,7.4, 8.6,9.3,8.2,7.5,8.7,9.4,8.3,7.6,8.8,9.5,
     8.4,7.7,8.9,9.6,8.5,7.8,9.0,9.7,8.6,null, null],
    [6.1,5.2,4.6,5.5,6.3,5.7,4.9,4.4,5.4,6.2, 5.6,4.8,4.3,5.3,6.1,5.5,4.7,4.2,5.2,6.0,
     5.4,4.6,4.1,5.1,5.9,5.3,4.5,4.0,5.0,5.8, 6.4,5.6,5.0,5.9,6.7,6.1,5.3,4.8,5.7,6.5,
     5.9,5.1,4.6,5.5,6.3,5.7,4.9,4.4,5.4,6.2, 6.6,5.8,5.2,6.1,6.9,6.3,5.5,5.0,5.9,6.7,
     6.1,5.3,4.8,5.7,6.5,5.9,5.1,4.6,5.6,6.4, 6.8,6.0,5.4,6.3,7.1,6.5,5.7,5.2,6.1,6.9,
     6.3,5.5,5.0,5.9,6.7,6.1,5.3,4.8,5.7,6.0, null],
    [6.5,7.1,5.8,5.2,6.9,7.6,6.4,5.5,4.7,5.9, 7.0,7.7,6.6,5.3,4.8,6.1,7.3,6.8,5.6,5.0,
     6.2,7.4,6.9,5.7,5.1,6.3,7.5,7.0,5.8,5.2, 6.4,7.6,7.1,5.9,5.3,6.5,7.7,7.2,6.0,5.4,
     6.6,7.8,7.3,6.1,5.5,6.7,7.9,7.4,6.2,5.6, 6.8,8.0,7.5,6.3,5.7,6.9,8.1,7.6,6.4,5.8,
     7.0,8.2,7.7,6.5,5.9,7.1,8.3,7.8,6.6,6.0, 7.2,8.4,7.9,6.7,6.1,7.3,8.5,8.0,6.8,6.2,
     7.4,8.6,8.1,6.9,6.3,7.5,8.7,8.2,7.0,null, null]
];

const fontFamily = "'Liberation Sans', Arial, Helvetica, sans-serif";

// grey panel background, like ggplot's theme_grey
const panelBackground = {
    id: 'panelBackground',
    beforeDraw(chart) {
        const {ctx, chartArea} = chart;
        ctx.save();
        ctx.fillStyle = '#EBEBEB';
        ctx.fillRect(chartArea.left, chartArea.top, chartArea.right - chartArea.left, chartArea.bottom - chartArea.top);
        ctx.restore();
    }
};

function toPoints(values) {
    return values.map((v, i) => ({x: minutes[i], y: v}));
}

function isMajor(value, step) {
    return Math.abs(value / step - Math.round(value / step)) < 1e-6;
}

function buildChart(canvasId, title, lines, trend) {
    // trend goes first so it is painted on top of the grey lines
    const datasets = [{
        data: trendX.map((x, i) => ({x: x, y: trend[i]})),
        borderColor: '#000000',
        borderWidth: 7,
        borderCapStyle: 'butt',
        pointRadius: 0
    }];
    for (const line of lines) {
        datasets.push({
            data: toPoints(line),
            borderColor: '#BEBEBE',
            borderWidth: 1.3,
            pointRadius: 0,
            spanGaps: false
        });
    }

    return new Chart(document.getElementById(canvasId), {
        type: 'line',
        data: {datasets: datasets},
        options: {
            responsive: false,
            animation: false,
            events: [],
            layout: {padding: {left: 0, right: 3, top: 0, bottom: 0}},
            plugins: {
                legend: {display: false},
                tooltip: {enabled: false},
                title: {
                    display: true,
                    text: title,
                    fullSize: false,
                    color: '#000000',
                    font: {family: fontFamily, size: 28, weight: 'normal'},
                    padding: {top: 4, bottom: 7}
                }
            },
            scales: {
                x: {
                    type: 'linear',
                    min: -2.25,
                    max: 47.25,
                    afterBuildTicks: s => { s.ticks = xTickValues.map(v => ({value: v})); },
                    afterFit: s => { s.height = 57; s.paddingLeft = 0; s.paddingRight = 0; },
                    border: {display: false},
                    grid: {
                        color: '#FFFFFF',
                        lineWidth: c => isMajor(c.tick.value, 5) ? 1.5 : 0.7,
                        drawTicks: true,
                        tickLength: 4,
                        tickWidth: 1,
                        tickColor: c => isMajor(c.tick.value, 5) ? '#333333' : 'rgba(0,0,0,0)'
                    },
                    ticks: {
                        autoSkip: false,
                        maxRotation: 0,
                        padding: 2,
                        color: '#4D4D4D',
                        font: {family: fontFamily, size: 19},
                        callback: v => isMajor(v, 5) ? String(v) : ''
                    },
                    title: {
                        display: true,
                        text: 'Time in Minutes',
                        color: '#000000',
                        font: {family: fontFamily, size: 24},
                        padding: {top: 0, bottom: 1}
                    }
                },
                y: {
                    type: 'linear',
                    min: 2.1,
                    max: 12.9,
                    afterBuildTicks: s => { s.ticks = yTickValues.map(v => ({value: v})); },
                    afterFit: s => { s.width = 89; s.paddingTop = 0; s.paddingBottom = 0; },
                    border: {display: false},
                    grid: {
                        color: '#FFFFFF',
                        lineWidth: c => isMajor(c.tick.value - 0.5, 1) ? 1.5 : 0.7,
                        drawTicks: true,
                        tickLength: 4,
                        tickWidth: 1,
                        tickColor: c => isMajor(c.tick.value - 0.5, 1) ? '#333333' : 'rgba(0,0,0,0)'
                    },
                    ticks: {
                        autoSkip: false,
                        padding: 4,
                        color: '#4D4D4D',
                        font: {family: fontFamily, size: 19},
                        callback: v => isMajor(v - 0.5, 1) ? v.toFixed(1) : ''
                    },
                    title: {
                        display: true,
                        text: 'RSA',
                        color: '#000000',
                        font: {family: fontFamily, size: 24},
                        padding: {top: 10, bottom: 0}
                    }
                }
            }
        },
        plugins: [panelBackground]
    });
}

buildChart('session1', 'Session 1', session1Lines, session1Trend);
buildChart('session4', 'Session 4', session4Lines, session4Trend);
buildChart('session8', 'Session 8', session8Lines, session8Trend);
buildChart('session12', 'Session 12', session12Lines, session12Trend);
</script>
</body>
</html>
